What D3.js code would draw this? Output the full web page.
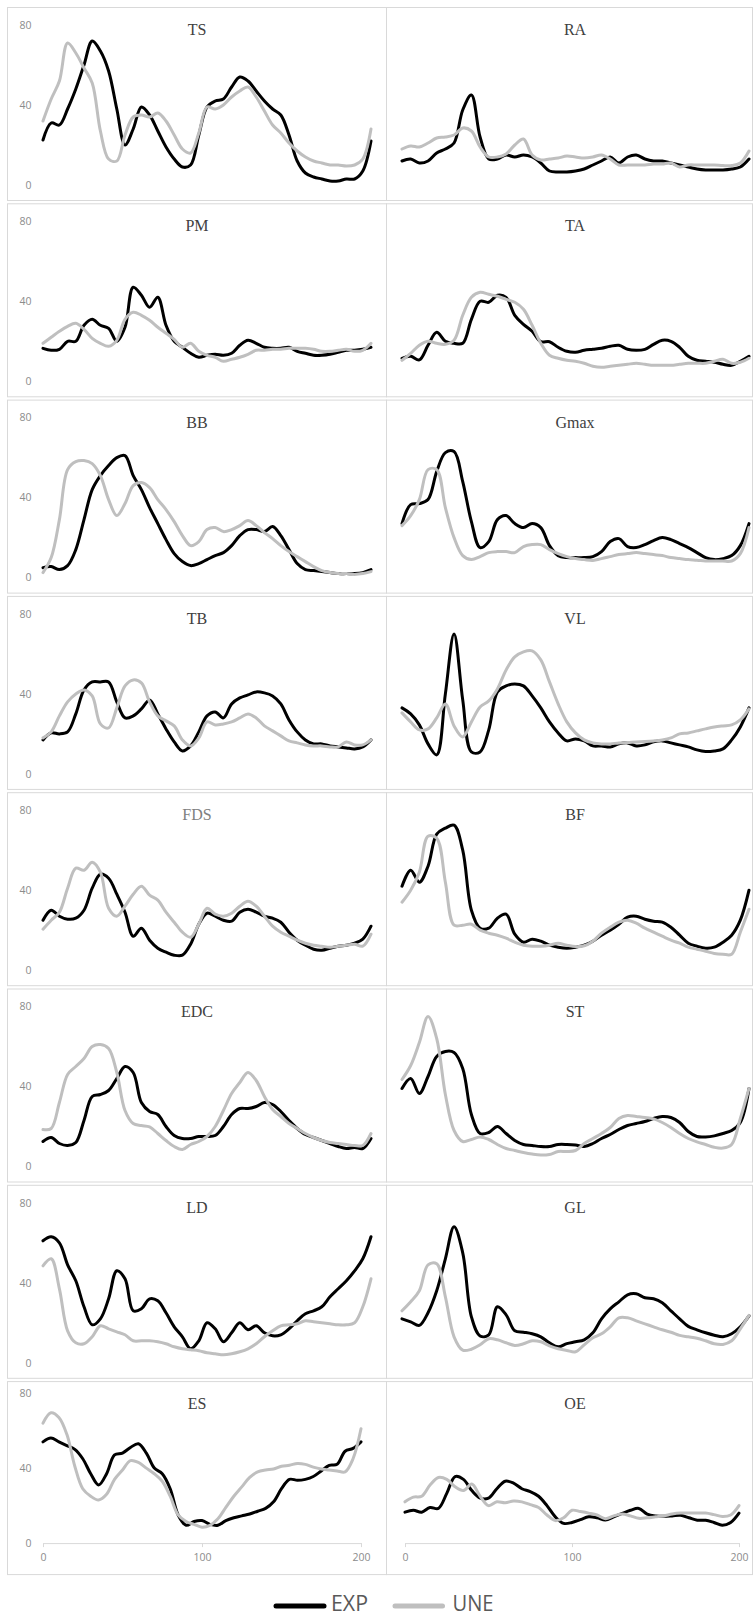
<!DOCTYPE html>
<meta charset="utf-8">
<style type="text/css">
	body { margin: 0; background: #fff; }
	.frame { fill: none; stroke: #d9d9d9; stroke-width: 1; }
	.yaxis text, .xaxis text { font-family: "Open Sans", sans-serif; font-size: 10.5px; fill: #8c8c8c; }
	.xaxis path, .xaxis line { stroke: #d9d9d9; }
	.title { font-family: "Liberation Serif", "Times New Roman", serif; font-size: 16px; fill: #404040; text-anchor: middle; }
	.exp { fill: none; stroke: #000; stroke-width: 3; stroke-linejoin: round; stroke-linecap: round; }
	.une { fill: none; stroke: #bfbfbf; stroke-width: 3; stroke-linejoin: round; stroke-linecap: round; }
	.legend text { font-family: "Open Sans", sans-serif; font-size: 22px; fill: #595959; }
</style>
<svg width="753" height="1618"></svg>
<script src="https://d3js.org/d3.v7.min.js"></script>
<script type="text/javascript">
	// frame index (x axis), one value every 5 frames
	var frames = [0,5,10,15,20,25,30,35,40,45,50,55,60,65,70,75,80,85,90,95,100,105,110,115,120,125,130,135,140,145,150,155,160,165,170,175,180,185,190,195,200];
	var yTicks = [0, 40, 80];
	var xTicks = [0, 100, 200];
	var muscles = ["TS","RA","PM","TA","BB","Gmax","TB","VL","FDS","BF","EDC","ST","LD","GL","ES","OE"];
	var series = ["EXP", "UNE"];

	var TS_EXP = [22.5,31,30,38,48,60,72,67,57,38,20,28,39,35,27,19,13,9,10,25,39,42,43,49,54,52,47,42,38,35,25,12,6,4,3,2,2,3,3,7,22];
	var TS_UNE = [32,43,52,71,66,58.5,51,27,13,12,25,34,35,34,36,32,25,18,16,26,39,38,40,44,47,49,44,37,30,26,21,17,14,12,11,10,10,9.5,10,13,28];
	var RA_EXP = [12,13,11,12,16,18,21,37.5,45,24,13,13,15,14,15,14,11,7,6.5,6.5,7,8,10,12,14,11,14,15,13,12,12,11,10,9,8,7.5,7.5,7.5,8,9,13];
	var RA_UNE = [18,19.5,19,21,23.5,24,25,28.5,27,19,14,14,15.5,20,23,15,12.5,13,13.5,14.5,14,13.5,14,15,13,10,10,10,10,10.5,10.5,11,9,10,10,10,10,9.7,9.7,11,17];
	var PM_EXP = [16.5,15.5,16,20,20,28,31,28,26.5,20,27,47,43,37,42,28,20,17,14,12,13,13.5,13,14,18,20.5,19,17,16.5,16.5,17,15,14,13,13,13.5,14.5,15.5,15.5,16,17];
	var PM_UNE = [19,22,25,27.5,29,26,21.5,19,17.5,20.5,31,34.5,33,30.5,27,24,21,17,19,15,13,12,10,11,12,13.5,15.5,15.5,16,16,16.5,16.5,16.5,16,15,15,15.5,16,15,15.5,19];
	var TA_EXP = [11.5,12.5,10.7,18,24.5,20,19,19,31,40,39.5,43,42,33,28.5,25,19.8,19.8,17,15,14.5,15.5,16,16.5,17.5,18,16,15.5,16,18.5,20.5,20,17,12.5,10.5,10,9.5,8.5,8,10,12.5];
	var TA_UNE = [10.5,14,18,20,19,18.5,20.5,33,42,44.5,43.5,42.5,41,39.5,36,28,19,13,11.5,10.5,10,9,7.5,7,7.5,8,8.5,9,8.5,8,8,8,8.5,9,9,9,10,11,9,9.5,11.5];
	var BB_EXP = [5,5.5,4,6,14,29,44,51,56,60,61,51,44,35,27,19,12,8,6,7,9,11,12.5,16,21,24,24,23,25.5,21,14,7,4,3.5,3,2.5,2,2,2,2.5,4];
	var BB_UNE = [2.5,10,29,54,58,58.5,57,51,39,31,37,46,47.5,45,39,34,28,21,16,18,24,25,23,24,26,28.5,26,22.5,19.5,16,13,10.5,8,5.5,3.5,2.5,2,2,1.6,2,3];
	var Gmax_EXP = [27,36.5,37,39,53,62.5,63,48,28,15,18,29,31,27,25,27,25,16,11,10,10,10,10.5,13,18,19.5,15.5,15,16.5,18.5,20,19,17,15,12.5,10,9,9.5,11,16,27];
	var Gmax_UNE = [26,31,39,54,54,35,20,11,9,10.5,12.5,13,13,12.5,15.5,16.5,16.5,14,12,10.5,9.5,9,8.6,9.5,10.5,11.5,12,12.5,12,11.5,11,10,9.5,9,8.7,8.3,8.3,8.3,8.3,12,25];
	var TB_EXP = [17,20.5,20,21,30,42,46,46,46,36,28,29,32.5,37,30,22.5,16,11.5,14,21,29,31,28,35,38,39.5,41,40.5,39,35,27,21,17,15,15,14,13.5,13,12.5,13.5,17];
	var TB_UNE = [18,21,29,36,40,42,39,25,23,33,44,47,45.5,36,29,26.5,24,17,14,18,26,24.5,25,26,28,30,28,24,21.5,19,16.5,15.5,14.5,14,14,13.5,13.5,16,14.5,14.5,17];
	var VL_EXP = [33,30,24.5,15,9.5,40,70,37,11,11,22,41,44,45,44,39,33,26,20.5,16.5,17.5,16.5,14,14,13.5,15,15.5,14,14.5,16,16.5,15.5,14.5,13.5,12,11.2,11.5,12.5,17,23.5,33];
	var VL_UNE = [30.5,26,22,22.5,28,35,24,18.5,26,33.5,36.5,42.5,52,58.5,61,61.5,57,46,35,26,20.5,17,15.5,15,15,15.5,15.7,16,16.2,16.5,17,18,20,20.5,21.5,22.5,23.4,24,24.5,27,32.5];
	var FDS_EXP = [25,30,27,25.5,26,30,41,48,46,38,29,17,21,15,11,9,7.5,7.5,13,23,28.5,27,25,24.5,29,30.5,29,27,26,24,19,15,12.5,10.5,10,11,12,12.5,13.5,15.5,22];
	var FDS_UNE = [20.5,25,29,41,51,50,54,49,31,27,32,38,42,37.5,35,29,24,19,16.5,23,31,28,27,28.5,32,34.5,32,27,22,19,17,15,13.5,12.5,12,11.5,12,12.5,13,12,18];
	var BF_EXP = [42,50,44,52,68,71,72.5,60,30,21,21,26,28,18,14,15.5,14.5,12.5,11.5,11,11.5,12.5,14.5,17.5,20,23,26.5,27,25.5,24.5,24,21.5,17.5,13.5,12,11,11.5,14,17.5,25,40];
	var BF_UNE = [34,40,49,67,66,44,22.5,22.5,23,20,18.5,17.5,16,14,12.5,12,12,12.5,13.5,12.5,11.8,12.2,14.5,18.5,21.5,24,25,23.5,21,19,17,15,13.5,11.5,10.5,9.5,8.4,8,8,19,30.5];
	var EDC_EXP = [12.5,14.5,11.5,10.5,12,23,35,36,38,44,50,47,32,27.5,26,20,15.5,14,14,15,15,15.5,20,26,29,29,30,32,31,27.5,23,19,16,14.5,13,11.5,10,9,9.5,9,14];
	var EDC_UNE = [18.5,19,32,46,50,54,60,61,59,47,28,21.5,20.5,19.8,16.5,13,10,8.5,11,12.5,15,20,28,36.5,42,47,43,35,28.5,25,21.5,19,16.5,14.5,13,12,11.5,11,10.5,10.5,16.5];
	var ST_EXP = [39,44,36.5,45,55,57.5,57,49,26,16.5,17,20,16.5,13,11,10.5,10,10,11,11,10.7,10,11.5,14,16,18.5,20.5,21.5,22.5,24,25,24.5,22,17.5,15,14.8,15.3,16.5,18,22,39];
	var ST_UNE = [43.5,50.5,62,75,64,36,18,12.5,13.5,14.8,13.5,11,9,8,7,6.2,5.7,6,7.5,7.5,8,11.5,14,16.5,19.5,24,25.5,25,24.5,23.8,22,19.5,16.5,14,12.3,11,9.6,9.2,11,24,39];
	var LD_EXP = [61,63,60,49,41,28,19,22,32,46,42,26,27,32,31,25,18,13,7,11,20,17,10.5,15,20,16.5,18.5,15,13.5,14,17,21,24.5,26,28,33,37,41,46,52,63];
	var LD_UNE = [48.5,52,37,16,10,9.5,13,18.5,17,15.5,14,11,11,11,10.5,9.5,8,7,6.5,6,5,4.5,4,4.5,5.5,7,9.5,13,16,18.5,19,19.5,21,20.5,20,19.5,19,19,20,28,42];
	var GL_EXP = [22,20.5,18.7,25,36,52,68,55,23,13.4,14,28,24,16,15.3,14.5,13,10,8,9.6,10.5,11.5,15,22,27,30.5,34,34.5,32.5,32,30,26,22,18.2,16.5,15,13.8,13,14.5,18,23.5];
	var GL_UNE = [26,30.5,36,49,49.5,33,13,6.3,6.8,9,12,11.5,10,8.7,9.5,11,10.5,8.5,7,6.2,5.5,9,12.5,14.5,18,22.5,22.5,21,19.5,18,16.5,15.3,13.7,13,12.3,11,9.5,9.2,11,17,23.7];
	var ES_EXP = [54,56,54,52,50,45,37,31,37,47,48,51,53,48,40,37,29,15,9.5,11.5,12,10,9.5,12,13.5,14.5,15.5,17,18.5,22,29,34,33.5,34,35.5,38.5,41.5,42,49,50.5,54];
	var ES_UNE = [64,69.5,67,58,41,29,25,23,26,34,39,44,43,40,37,33,25,15,11.5,10,8.5,9.5,13,19,25,30,35,38,39,39.5,41,41.5,42.5,42,40.5,39.5,39,38.5,38,45,61];
	var OE_EXP = [16.5,17.5,16.5,19,18.5,26.5,35.5,34,28,24,24,29,33,32,29,27.5,25,20,14,10.5,11,12.5,14,13.5,12.3,14,15.8,17.5,18.5,15.5,14.5,14.3,14.5,14.8,13.5,12.2,12.2,11,9.5,11,16];
	var OE_UNE = [22,24.5,25,31,35,34,30,28,31.5,25,20,22,21.5,22.5,22,20.5,19,15,12,13.5,17.5,16.8,16,15,13,14.5,15.5,14.5,13.2,13.5,14,14.5,15.5,16,16,16,16,15.2,14.2,15,20];

	var values = {
		TS: [TS_EXP, TS_UNE], RA: [RA_EXP, RA_UNE], PM: [PM_EXP, PM_UNE], TA: [TA_EXP, TA_UNE],
		BB: [BB_EXP, BB_UNE], Gmax: [Gmax_EXP, Gmax_UNE], TB: [TB_EXP, TB_UNE], VL: [VL_EXP, VL_UNE],
		FDS: [FDS_EXP, FDS_UNE], BF: [BF_EXP, BF_UNE], EDC: [EDC_EXP, EDC_UNE], ST: [ST_EXP, ST_UNE],
		LD: [LD_EXP, LD_UNE], GL: [GL_EXP, GL_UNE], ES: [ES_EXP, ES_UNE], OE: [OE_EXP, OE_UNE]
	};

	var svg = d3.select("svg"),
		width = +svg.attr("width"),
		height = +svg.attr("height");

	var nRows = 8, pitch = 196.3, top0 = 7, panelH = 193;
	var colLeft = [7, 386], colRight = [386, 752];
	var titleX = [197, 575];

	muscles.forEach(function(name, i){
		var row = Math.floor(i / 2), col = i % 2;
		var top = top0 + row * pitch;
		var last = row === nRows - 1;

		// plot area (bottom row is squeezed by the x axis labels)
		var xr = col === 0 ? (last ? [43, 361] : [43, 371]) : (last ? [405, 739] : [402, 749]);
		var yr = last ? [top + 162, top + 12] : [top + 178, top + 18];

		var x = d3.scaleLinear().domain([0, 200]).range(xr);
		var y = d3.scaleLinear().domain([0, 80]).range(yr);

		var g = svg.append("g").attr("class", "panel");

		g.append("rect").attr("class", "frame")
			.attr("x", colLeft[col] + 0.5).attr("y", top + 0.5)
			.attr("width", colRight[col] - colLeft[col]).attr("height", panelH);

		if (col === 0) {
			var ya = g.append("g").attr("class", "yaxis")
				.attr("transform", "translate(" + xr[0] + ",0)")
				.call(d3.axisLeft(y).tickValues(yTicks).tickSize(0).tickPadding(11.5));
			ya.select(".domain").remove();
			ya.selectAll("text").attr("font-family", null).attr("font-size", null);
		}

		if (last) {
			var xa = g.append("g").attr("class", "xaxis")
				.attr("transform", "translate(0," + yr[0] + ")")
				.call(d3.axisBottom(x).tickValues(xTicks).tickSize(4).tickSizeOuter(0).tickPadding(6));
			xa.selectAll("text").attr("font-family", null).attr("font-size", null);
		}

		g.append("text").attr("class", "title")
			.attr("x", titleX[col]).attr("y", top + 28)
			.style("fill", name === "FDS" ? "#808080" : null)
			.text(name);

		var line = d3.line()
			.x(function(d, k){ return x(frames[k]); })
			.y(function(d){ return y(d); })
			.curve(d3.curveCatmullRom.alpha(0.5));

		g.append("path").attr("class", "exp").attr("d", line(values[name][0]));
		g.append("path").attr("class", "une").attr("d", line(values[name][1]));
	});

	// legend
	var legend = svg.append("g").attr("class", "legend");
	var legendItems = [
		{ label: series[0], cls: "exp", x1: 276, x2: 324, tx: 331, tl: 37 },
		{ label: series[1], cls: "une", x1: 395, x2: 442.5, tx: 452.5, tl: 41 }
	];
	legendItems.forEach(function(d){
		legend.append("line").attr("class", d.cls)
			.attr("x1", d.x1).attr("x2", d.x2).attr("y1", 1606).attr("y2", 1606)
			.style("stroke-width", 5);
		legend.append("text").attr("x", d.tx).attr("y", 1611)
			.attr("textLength", d.tl).attr("lengthAdjust", "spacingAndGlyphs")
			.text(d.label);
	});
</script>
